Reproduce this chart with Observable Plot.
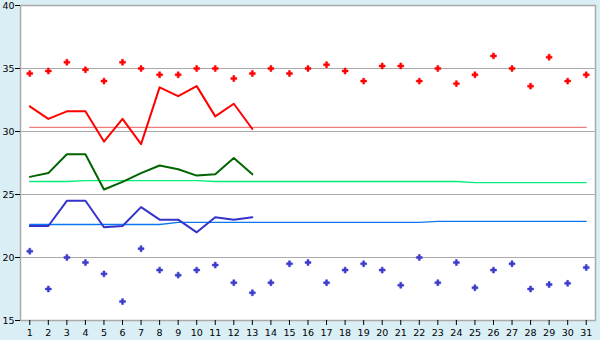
<!DOCTYPE html>
<html>
<head>
<meta charset="utf-8">
<script src="https://cdn.jsdelivr.net/npm/d3@7"></script>
<script src="https://cdn.jsdelivr.net/npm/@observablehq/plot@0.6"></script>
<style>
  html, body { margin: 0; padding: 0; background: #d9eef5; }
  #chart svg { display: block; overflow: visible; }
</style>
</head>
<body>
<div id="chart"></div>
<script>
const days = d3.range(1, 32);
const yTicks = [15, 20, 25, 30, 35, 40];

// Upper scattered points (red)
const redDots = [34.6, 34.8, 35.5, 34.9, 34.0, 35.5, 35.0, 34.5, 34.5, 35.0, 35.0, 34.2, 34.6, 35.0, 34.6,
                 35.0, 35.3, 34.8, 34.0, 35.2, 35.2, 34.0, 35.0, 33.8, 34.5, 36.0, 35.0, 33.6, 35.9, 34.0, 34.5];
// Red line (days 1-13)
const redLine = [32.0, 31.0, 31.6, 31.6, 29.2, 31.0, 29.0, 33.5, 32.8, 33.6, 31.2, 32.2, 30.2];
// Red average line
const redAvg = Array(31).fill(30.32);

// Green line (days 1-13)
const greenLine = [26.4, 26.7, 28.2, 28.2, 25.4, 26.0, 26.7, 27.3, 27.0, 26.5, 26.6, 27.9, 26.6];
// Green average line
const greenAvg = [26.03, 26.03, 26.03, 26.1, 26.1, 26.1, 26.1, 26.1, 26.1, 26.1,
                  26.03, 26.03, 26.03, 26.03, 26.03, 26.03, 26.03, 26.03, 26.03, 26.03, 26.03, 26.03, 26.03, 26.03,
                  25.95, 25.95, 25.95, 25.95, 25.95, 25.95, 25.95];

// Blue line (days 1-13)
const blueLine = [22.5, 22.5, 24.5, 24.5, 22.4, 22.5, 24.0, 23.0, 23.0, 22.0, 23.2, 23.0, 23.2];
// Blue average line
const blueAvg = [22.62, 22.62, 22.62, 22.62, 22.62, 22.62, 22.62, 22.62,
                 22.78, 22.78, 22.78, 22.78, 22.78, 22.78, 22.78, 22.78, 22.78, 22.78, 22.78, 22.78, 22.78, 22.78,
                 22.86, 22.86, 22.86, 22.86, 22.86, 22.86, 22.86, 22.86, 22.86];
// Lower scattered points (blue)
const blueDots = [20.5, 17.5, 20.0, 19.6, 18.7, 16.5, 20.7, 19.0, 18.6, 19.0, 19.4, 18.0, 17.2, 18.0, 19.5,
                  19.6, 18.0, 19.0, 19.5, 19.0, 17.8, 20.0, 18.0, 19.6, 17.6, 19.0, 19.5, 17.5, 17.85, 17.95, 19.2];

const toPts = arr => arr.map((v, i) => ({day: days[i], v}));

const chart = Plot.plot({
  width: 600,
  height: 340,
  marginLeft: 20,
  marginRight: 5,
  marginTop: 5,
  marginBottom: 20,
  style: {background: "#d9eef5", fontFamily: "DejaVu Sans", fontSize: "9.5px", color: "#000", overflow: "visible"},
  x: {domain: [0.5, 31.5], ticks: days, tickFormat: d => String(d), tickSize: 5, tickPadding: 4, label: null},
  y: {domain: [15, 40], ticks: yTicks, tickSize: 5, tickPadding: 1, label: null},
  marks: [
    Plot.frame({fill: "white", stroke: "#aaaaaa", strokeWidth: 1.5}),
    Plot.ruleY(yTicks.slice(1, -1), {stroke: "#aaaaaa", strokeWidth: 1.2}),
    Plot.line(toPts(redAvg), {x: "day", y: "v", stroke: "#f08080", strokeWidth: 1.3}),
    Plot.line(toPts(greenAvg), {x: "day", y: "v", stroke: "#00ee77", strokeWidth: 1.3}),
    Plot.line(toPts(blueAvg), {x: "day", y: "v", stroke: "#0a78f0", strokeWidth: 1.3}),
    Plot.line(toPts(redLine), {x: "day", y: "v", stroke: "#ff0000", strokeWidth: 2}),
    Plot.line(toPts(greenLine), {x: "day", y: "v", stroke: "#006400", strokeWidth: 2}),
    Plot.line(toPts(blueLine), {x: "day", y: "v", stroke: "#3333cc", strokeWidth: 2}),
    Plot.dot(toPts(redDots), {x: "day", y: "v", symbol: "cross", r: 2.5, fill: "#ff0000", stroke: "#ff0000", strokeWidth: 0.5}),
    Plot.dot(toPts(blueDots), {x: "day", y: "v", symbol: "cross", r: 2.5, fill: "#3a3acc", stroke: "#3a3acc", strokeWidth: 0.5}),
    Plot.axisX({ticks: days, tickFormat: d => String(d), tickSize: 5, tickPadding: 4, stroke: "#000", label: null}),
    Plot.axisY({ticks: yTicks, tickSize: 5, tickPadding: 1, stroke: "#000", label: null})
  ]
});
document.getElementById("chart").appendChild(chart);
</script>
</body>
</html>
